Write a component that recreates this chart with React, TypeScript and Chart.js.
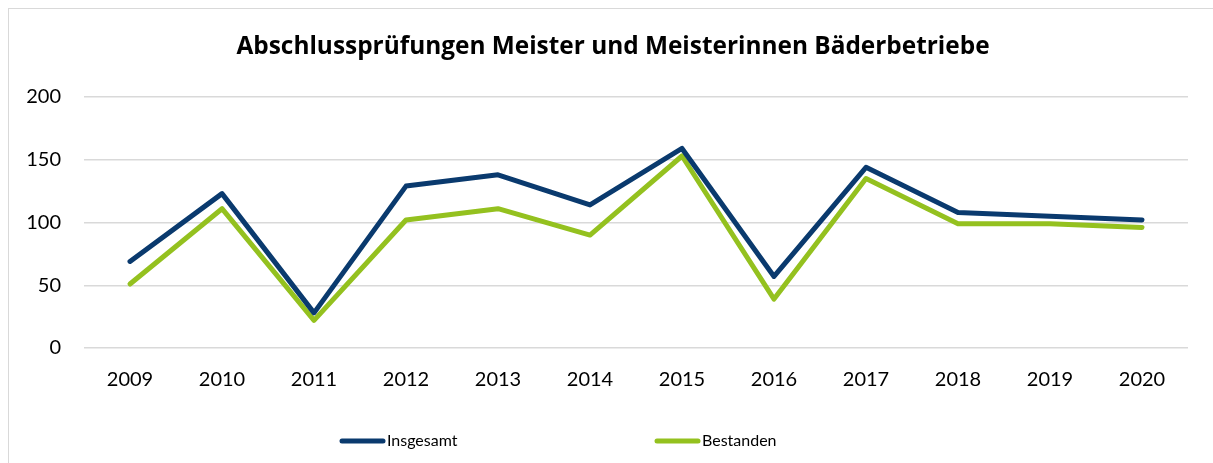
import React, { useEffect, useRef } from "react";
import { Chart, registerables } from "chart.js";

Chart.register(...registerables);

const title = "Abschlussprüfungen Meister und Meisterinnen Bäderbetriebe";
const years = ["2009", "2010", "2011", "2012", "2013", "2014", "2015", "2016", "2017", "2018", "2019", "2020"];
const insgesamt = [69, 123, 28, 129, 138, 114, 159, 57, 144, 108, 105, 102];
const bestanden = [51, 111, 22, 102, 111, 90, 153, 39, 135, 99, 99, 96];
const seriesNames = ["Insgesamt", "Bestanden"];
const seriesColors = ["#0a3a6e", "#94c11f"];
const legendStarts = [340, 655];

const FONT = "Lato, 'Open Sans', sans-serif";

const overlayPlugin = {
  id: "overlay",
  afterDraw(chart: any) {
    const ctx = chart.ctx;
    ctx.save();
    // title
    ctx.fillStyle = "#000";
    ctx.font = `bold 24.4px 'Open Sans', sans-serif`;
    ctx.textAlign = "center";
    ctx.textBaseline = "middle";
    ctx.fillText(title, 613, 47);
    // legend
    ctx.font = `16px ${FONT}`;
    ctx.textAlign = "left";
    chart.data.datasets.forEach((ds: any, i: number) => {
      const x = legendStarts[i];
      const y = 441;
      ctx.strokeStyle = ds.borderColor;
      ctx.lineWidth = 5;
      ctx.lineCap = "round";
      ctx.beginPath();
      ctx.moveTo(x + 2, y);
      ctx.lineTo(x + 43, y);
      ctx.stroke();
      ctx.fillStyle = "#000";
      ctx.fillText(ds.label, x + 47, y);
    });
    ctx.restore();
  },
};

export default function App() {
  const ref = useRef<HTMLCanvasElement | null>(null);
  useEffect(() => {
    if (!ref.current) return;
    const chart = new Chart(ref.current, {
      type: "line",
      data: {
        labels: years,
        datasets: [
          {
            label: seriesNames[0],
            data: insgesamt,
            borderColor: seriesColors[0],
            backgroundColor: seriesColors[0],
            borderWidth: 5,
            pointRadius: 0,
            borderCapStyle: "round",
            borderJoinStyle: "round",
            tension: 0,
          },
          {
            label: seriesNames[1],
            data: bestanden,
            borderColor: seriesColors[1],
            backgroundColor: seriesColors[1],
            borderWidth: 5,
            pointRadius: 0,
            borderCapStyle: "round",
            borderJoinStyle: "round",
            tension: 0,
          },
        ],
      },
      options: {
        responsive: false,
        animation: false,
        layout: { padding: { top: 97, left: 8, right: 25, bottom: 75 } },
        plugins: {
          legend: { display: false },
          title: { display: false },
          tooltip: { enabled: false },
        },
        scales: {
          x: {
            offset: true,
            grid: { display: false, drawTicks: false },
            border: { display: false },
            ticks: { color: "#000", padding: 20, font: { family: FONT, size: 20 } },
            afterFit: (s: any) => { s.height = 40; },
          },
          y: {
            min: 0,
            max: 200,
            ticks: { stepSize: 50, color: "#000", padding: 23, font: { family: FONT, size: 20 } },
            grid: { color: "#d9d9d9", lineWidth: 1.5, drawTicks: false },
            border: { display: false },
            afterFit: (s: any) => { s.width = 76; },
          },
        },
      },
      plugins: [overlayPlugin],
    });
    return () => chart.destroy();
  }, []);
  return (
    <div style={{ position: "fixed", left: 0, top: 0, width: 1213, height: 463, background: "#fff", overflow: "hidden" }}>
      <div style={{ position: "absolute", left: 8, top: 8, width: 1300, height: 600, borderLeft: "1.5px solid #d9d9d9", borderTop: "1.5px solid #d9d9d9" }} />
      <canvas ref={ref} width={1213} height={463} style={{ position: "absolute", left: 0, top: 0 }} />
    </div>
  );
}
